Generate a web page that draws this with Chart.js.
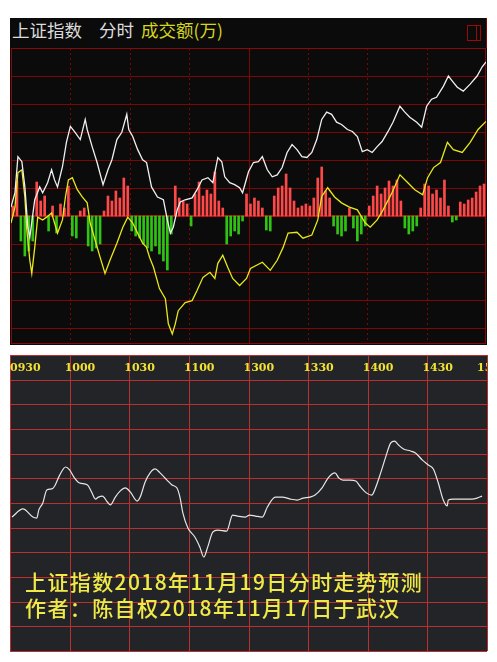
<!DOCTYPE html>
<html>
<head>
<meta charset="utf-8">
<script src="https://cdn.jsdelivr.net/npm/chart.js@4.4.1/dist/chart.umd.min.js"></script>
<style>
  html, body { margin: 0; padding: 0; background: #fff; }
  body { width: 497px; height: 662px; position: relative; overflow: hidden; font-family: "Noto Sans CJK SC", sans-serif; }
  #topPanel { position: absolute; left: 10px; top: 18px; width: 477px; height: 327px; background: #0b0b0b; }
  .hd { position: absolute; top: 21px; font-size: 17.5px; line-height: 18px; white-space: nowrap; color: #dcdcdc; }
  #hdRule { position: absolute; left: 486px; top: 18px; width: 1px; height: 30px; background: #7d0606; }
  #icon { position: absolute; left: 467px; top: 25px; width: 12px; height: 14px; border: 1px solid #a00808; }
  #icon:after { content: ""; position: absolute; left: 8px; top: 0; width: 1px; height: 14px; background: #a00808; }
  #bottomPanel { position: absolute; left: 10px; top: 355px; width: 477px; height: 297px; background: #232427; }
  canvas { position: absolute; }
  #fenshi { left: 10px; top: 47px; }
  #yuce { left: 9px; top: 354px; }
  .note { position: absolute; left: 25px; font-size: 21px; line-height: 21px; letter-spacing: 1.4px; color: #f0ea48; white-space: nowrap; font-weight: 500; }
</style>
</head>
<body>
<div id="topPanel"></div>
<div class="hd" style="left:12px">上证指数</div>
<div class="hd" style="left:99px">分时</div>
<div class="hd" style="left:141px;color:#d6d61e">成交额(万)</div>
<div id="hdRule"></div>
<div id="icon"></div>
<canvas id="fenshi" width="477" height="298"></canvas>

<div id="bottomPanel"></div>
<canvas id="yuce" width="480" height="299"></canvas>
<div class="note" style="top:571px">上证指数2018年11月19日分时走势预测</div>
<div class="note" style="top:597px">作者：陈自权2018年11月17日于武汉</div>

<script>
// 分时：分钟 (0 = 09:30, 120 = 11:30/13:00, 240 = 15:00)
const whiteMin = [0,2,3.5,5.5,7,8.5,9.5,12,14.5,16,18.5,20.5,22,23.5,26,28,30,32,35,37.5,38.5,41,43.5,46.5,49,51,53.5,56,58.5,59.5,61.5,64,66.5,68.5,71,74,77,79,80.5,82,84,85.5,88,91.5,94,96.5,99.5,102,104.5,106.5,108,110.5,113,115.5,117,120,122.5,125,127,129.5,132,134.5,137,139.5,142,144.5,147,149.5,152,154.5,157,159.5,162,164.5,167,170,172.5,175,177.5,180,182.5,185,187.5,190.5,193,196.5,199,201.5,205,207.5,210,212.5,215,218.5,221,223,225.5,228.5,232,235.5,238,240];
const whiteVal = [0.32,0.83,2.12,1.94,1.04,-0.40,-0.76,0.58,1.04,0.83,1.19,1.65,1.29,1.04,1.76,2.63,3.20,3.02,2.73,3.45,3.09,2.48,1.91,1.12,1.65,2.01,2.73,2.99,3.63,3.09,2.84,2.37,2.01,1.91,1.04,0.68,0.58,-0.14,-0.61,-0.40,0.22,0.50,0.58,0.65,0.94,1.29,1.37,1.19,2.09,1.94,1.40,1.19,1.12,1.01,0.83,1.58,1.91,1.94,2.12,1.65,1.40,1.47,1.73,2.27,2.55,2.37,2.12,2.09,2.27,2.73,3.45,3.71,3.63,3.35,3.27,3.09,3.02,2.84,2.30,2.37,2.27,2.48,2.66,3.02,3.35,3.92,3.71,3.53,3.35,3.17,3.92,4.17,4.24,4.64,5.00,4.82,4.60,4.46,4.71,5.00,5.32,5.50];

const yellowMin = [0,2,3.5,5.5,7,8,9.5,10.5,12,13.5,16,18,20.5,22,23.5,26,27.5,29,31,33.5,36,38.5,40,42.5,45,47.5,50,53.5,56.5,59,61.5,64,66.5,68.5,70,72,75,78,79.5,81.5,83,84.5,88,91.5,94,97,100.5,103,104.5,107,109.5,112,115.5,119,121,127,131,134.5,137.5,140,144.5,147.5,152,155,157,160,163.5,167,171,175,179,181.5,185,188,192.5,196.5,200.5,204,208,210.5,213.5,217,220.5,223.5,228,232,236,240];
const yellowVal = [-0.25,0.32,1.55,1.65,0.68,-0.50,-1.58,-2.05,-1.12,-0.04,-0.14,-0.04,0.11,-0.25,-0.61,-0.14,0.68,1.29,1.37,0.94,0.68,0.47,-0.25,-0.86,-1.47,-2.05,-1.58,-0.97,-0.40,-0.04,-0.25,-0.61,-0.97,-1.12,-1.47,-1.83,-2.59,-2.95,-3.85,-4.21,-3.85,-3.38,-3.09,-3.02,-2.66,-2.19,-2.01,-2.23,-1.69,-1.40,-1.83,-2.23,-2.48,-2.23,-1.87,-1.65,-1.94,-1.58,-1.12,-0.61,-0.58,-0.79,-0.68,-0.14,0.70,1.01,0.68,0.47,0.32,0.22,-0.25,-0.40,-0.14,0.22,0.83,1.47,1.19,0.94,0.76,1.37,1.73,1.91,2.63,2.37,2.27,2.63,3.09,3.38];

// 成交额柱（每两分钟一根，红正绿负）
const volume = [10,35,-25,-40,-35,-25,34,15,20,-15,
  10,-17,12,8,30,-20,-22,5,8,-30,
  -35,-32,-28,5,20,15,25,18,38,30,
  -15,-20,-22,-28,-32,-35,-30,-38,-45,-54,
  -18,30,18,15,12,-10,22,34,20,26,
  22,44,15,8,-28,-20,-15,-18,-5,22,
  12,18,15,8,-14,-15,20,28,30,42,
  28,15,8,10,12,10,18,38,49,25,
  18,-10,-18,-20,-15,8,-12,-25,-18,-10,
  10,20,30,22,28,35,30,36,15,-12,
  -18,-15,-10,8,32,30,22,26,18,36,
  10,-6,-4,14,12,16,18,24,30,32];
const barMinutes = volume.map((v, i) => 2 * i + 1);

// 预测走势
const fcMin = [1,6.5,11.5,13.5,14.5,16.5,18.5,21,22.5,25,28,30,32.5,35,39,41,43,44.5,46.5,49,50.5,53,55.5,58,60.5,64,65.5,68,70.5,73,75.5,79,81.5,84,85.5,87,89.5,93,95.5,97.5,99.5,102,104.5,109,112,114.5,118.5,120.5,123.5,127,129.5,133.5,137,141,144.5,147.5,151,153.5,157,160,163.5,165.5,167.5,171,174,176,179.5,182,183.5,186.5,189,191.5,193.5,195.5,198,201.5,204,207.5,210.5,213,215.5,218,220,220.5,223,228,232.5,235,237.5];
const fcVal = [5.43,5.76,5.43,5.39,5.72,6.00,6.53,6.57,6.69,7.13,7.46,7.34,7.01,6.81,6.73,6.45,6.16,6.24,6.28,6.04,5.92,6.24,6.49,6.61,6.45,6.08,6.24,6.85,7.22,7.38,7.22,6.93,6.73,6.61,6.24,5.59,4.99,4.62,4.22,3.81,4.22,4.82,4.90,4.86,5.51,5.47,5.43,5.51,5.47,5.43,5.84,6.24,6.24,6.16,6.12,6.20,6.24,6.32,6.61,7.01,7.22,7.01,6.93,6.93,6.89,6.69,6.40,6.32,6.53,7.22,7.86,8.43,8.51,8.35,8.19,8.11,8.03,7.74,7.54,7.38,6.81,6.12,5.88,6.12,6.16,6.16,6.16,6.20,6.28];

const timeTicks = [0, 30, 60, 90, 120, 150, 180, 210, 240];
const tickLabels = ['0930', '1000', '1030', '1100', '1300', '1330', '1400', '1430', '1500'];
const priceLines = [-4, -3, -2, -1, 1, 2, 3, 4, 5];

const pts = (xs, ys) => xs.map((x, i) => ({ x: x, y: ys[i] }));

function hLine(ctx, a, py) {
  py = Math.round(py) + 0.5;
  ctx.beginPath(); ctx.moveTo(a.left, py); ctx.lineTo(a.right, py); ctx.stroke();
}
function vLine(ctx, a, px) {
  px = Math.round(px) + 0.5;
  ctx.beginPath(); ctx.moveTo(px, a.top); ctx.lineTo(px, a.bottom); ctx.stroke();
}

const gridTop = {
  id: 'gridTop',
  beforeDatasetsDraw(chart) {
    const { ctx, chartArea: a, scales: { x, y } } = chart;
    ctx.save();
    ctx.strokeStyle = '#7d0606';
    ctx.lineWidth = 1;
    priceLines.forEach(v => hLine(ctx, a, y.getPixelForValue(v)));
    ctx.setLineDash([2, 3]);
    timeTicks.slice(1, -1).forEach(t => { if (t !== 120) vLine(ctx, a, x.getPixelForValue(t)); });
    ctx.setLineDash([]);
    vLine(ctx, a, x.getPixelForValue(120));
    ctx.strokeStyle = '#8a0808';
    ctx.strokeRect(a.left + 0.5, a.top + 0.5, a.right - a.left - 1, a.bottom - a.top - 1);
    ctx.strokeStyle = '#a00c0c';
    ctx.lineWidth = 2;
    const z = Math.round(y.getPixelForValue(0));
    ctx.beginPath(); ctx.moveTo(a.left, z); ctx.lineTo(a.right, z); ctx.stroke();
    ctx.restore();
  }
};

new Chart(document.getElementById('fenshi'), {
  data: {
    datasets: [
      { type: 'line', label: '上证指数', data: pts(whiteMin, whiteVal), borderColor: '#f0f0f0', borderWidth: 1.3,
        pointRadius: 0, tension: 0, yAxisID: 'y', order: 1 },
      { type: 'line', label: '均价', data: pts(yellowMin, yellowVal), borderColor: '#e8e81a', borderWidth: 1.3,
        pointRadius: 0, tension: 0, yAxisID: 'y', order: 2 },
      { type: 'bar', label: '成交额(万)', data: pts(barMinutes, volume), yAxisID: 'yv', order: 3,
        backgroundColor: c => (c.raw && c.raw.y < 0) ? '#2fc414' : '#ff4848',
        barThickness: 2, grouped: false }
    ]
  },
  options: {
    responsive: false, animation: false, events: [],
    layout: { padding: { left: 1, right: 1, top: 1, bottom: 1 } },
    plugins: { legend: { display: false }, tooltip: { enabled: false } },
    scales: {
      x: { type: 'linear', min: 0, max: 240, offset: false, display: false },
      y: { min: -4.57, max: 6, display: false },
      yv: { min: -128, max: 168, display: false }
    }
  },
  plugins: [gridTop]
});

const gridBottom = {
  id: 'gridBottom',
  beforeDatasetsDraw(chart) {
    const { ctx, chartArea: a, scales: { x, y } } = chart;
    ctx.save();
    ctx.strokeStyle = '#b83030';
    ctx.lineWidth = 1;
    for (let v = 0; v <= 12; v++) hLine(ctx, a, y.getPixelForValue(v));
    timeTicks.forEach(t => vLine(ctx, a, x.getPixelForValue(t)));
    ctx.beginPath();
    ctx.rect(a.left, a.top, a.right - a.left, a.bottom - a.top);
    ctx.clip();
    ctx.fillStyle = '#f2e232';
    ctx.font = 'bold 11px "DejaVu Serif"';
    ctx.textBaseline = 'middle';
    timeTicks.forEach((t, i) => {
      const lx = Math.min(x.getPixelForValue(t) - 5, a.right - 10);
      ctx.fillText(tickLabels[i], Math.max(a.left, lx), a.top + 13);
    });
    ctx.restore();
  }
};

new Chart(document.getElementById('yuce'), {
  type: 'line',
  data: {
    datasets: [{ label: '预测', data: pts(fcMin, fcVal), borderColor: '#e6e6e6', borderWidth: 1.2,
      pointRadius: 0, cubicInterpolationMode: 'monotone' }]
  },
  options: {
    responsive: false, animation: false, events: [],
    layout: { padding: { left: 1, right: 2, top: 1, bottom: 2 } },
    plugins: { legend: { display: false }, tooltip: { enabled: false } },
    scales: {
      x: { type: 'linear', min: 0, max: 240, display: false },
      y: { min: 0, max: 12, display: false }
    }
  },
  plugins: [gridBottom]
});
</script>
</body>
</html>
